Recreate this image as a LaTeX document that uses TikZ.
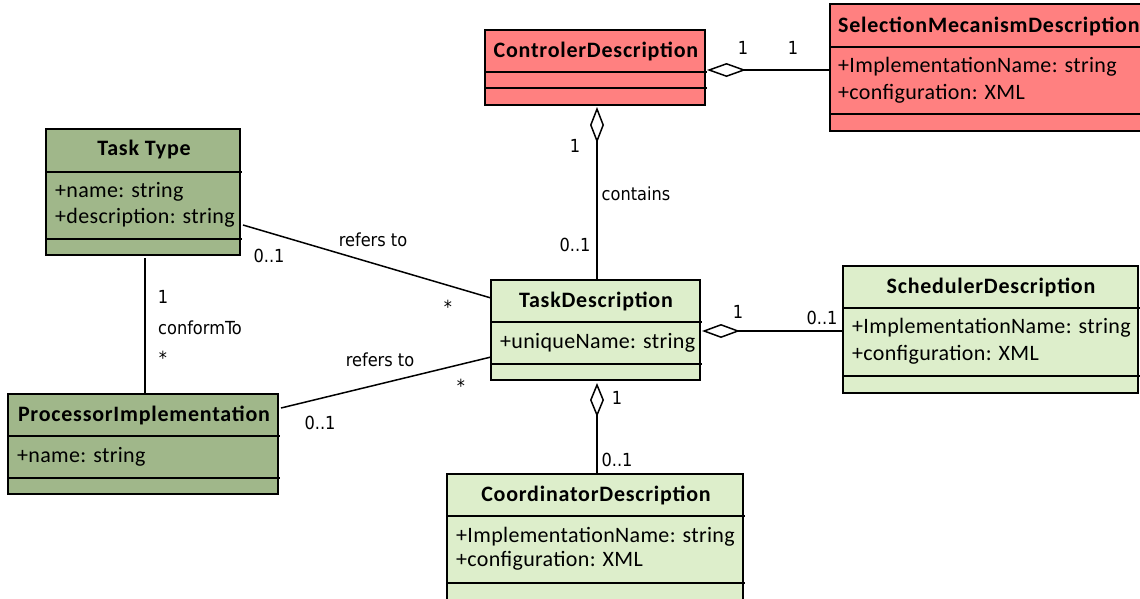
\documentclass[tikz,border=0pt]{standalone}
\usepackage{fontspec}
\usetikzlibrary{arrows.meta}
\newfontfamily\clsfont{Carlito}[LetterSpace=1.5]
\newfontfamily\clstitlefont{Carlito}[LetterSpace=3.5]
\newfontfamily\lblfont{DejaVu Sans Condensed}
\definecolor{cred}{HTML}{FF8080}
\definecolor{cdark}{HTML}{A0B78A}
\definecolor{clight}{HTML}{DDEECB}
\tikzset{
  classbox/.style={draw, line width=1.5pt, inner sep=0pt, outer sep=0pt},
  sepline/.style={line width=1.5pt},
  ctitle/.style={inner sep=0pt, font=\clstitlefont\bfseries\fontsize{22}{26}\selectfont},
  cattr/.style={inner sep=0pt, anchor=west, font=\clsfont\fontsize{22}{26}\selectfont},
  lbl/.style={inner sep=0pt, font=\lblfont\fontsize{18}{21}\selectfont},
  conn/.style={line width=1.5pt},
  agg/.style={line width=1.5pt, {Diamond[open,length=#1,width=14pt]}-},
}
\newcommand\umlclass[8]{%
  \node[classbox, fill=#8, minimum width={(#4-#2)*1pt}, minimum height={(#5-#3)*1pt}, anchor=north west] (#1) at (#2,#3) {};
  \draw[sepline] (#2,#6) -- (#4+2,#6) (#2,#7) -- (#4+2,#7);
}
\begin{document}
\begin{tikzpicture}[x=1pt,y=-1pt]
\useasboundingbox (0,0) rectangle (1140,598);
\clip (0,0) rectangle (1140,598);
% classes
\umlclass{ctrl}{485}{30}{705}{105}{72}{88}{cred}
\node[ctitle] (ctrl-t) at (596,51) {ControlerDescription};

\umlclass{sel}{830}{4}{1152}{131}{47}{114}{cred}
\node[ctitle, anchor=west] (sel-t) at (838,26) {SelectionMecanismDescription};
\node[cattr] (sel-a1) at (838,67) {+ImplementationName: string};
\node[cattr] (sel-a2) at (838,94) {+configuration: XML};

\umlclass{tt}{46}{129}{240}{255}{172}{239}{cdark}
\node[ctitle] (tt-t) at (144,150) {Task Type};
\node[cattr] (tt-a1) at (55,192) {+name: string};
\node[cattr] (tt-a2) at (55,218) {+description: string};

\umlclass{proc}{8}{394}{278}{494}{436}{478}{cdark}
\node[ctitle] (proc-t) at (144,415) {ProcessorImplementation};
\node[cattr] (proc-a1) at (17,457) {+name: string};

\umlclass{td}{491}{280}{700}{380}{322}{364}{clight}
\node[ctitle] (td-t) at (596,301) {TaskDescription};
\node[cattr] (td-a1) at (500,343) {+uniqueName: string};

\umlclass{sched}{843}{266}{1138}{393}{308}{376}{clight}
\node[ctitle] (sched-t) at (991,287) {SchedulerDescription};
\node[cattr] (sched-a1) at (852,328) {+ImplementationName: string};
\node[cattr] (sched-a2) at (852,355) {+configuration: XML};

\umlclass{coord}{447}{474}{743}{620}{516}{583}{clight}
\node[ctitle] (coord-t) at (596,495) {CoordinatorDescription};
\node[cattr] (coord-a1) at (456,537) {+ImplementationName: string};
\node[cattr] (coord-a2) at (456,561) {+configuration: XML};

% connectors
\draw[agg=39pt] ([xshift=2pt,yshift=-2.5pt]ctrl.east) -- ([yshift=-2.5pt]sel.west);
\draw[agg=36pt] ([xshift=2pt,yshift=-2pt]ctrl.south) -- ([xshift=1.5pt]td.north);
\draw[agg=38pt] ([xshift=2pt,yshift=-1pt]td.east) -- ([yshift=-1.5pt]sched.west);
\draw[agg=34pt] ([xshift=1.5pt,yshift=-3pt]td.south) -- ([xshift=2pt]coord.north);
\draw[conn] ([xshift=3pt,yshift=-33pt]tt.east) -- ([yshift=32pt]td.west);
\draw[conn] ([xshift=3pt,yshift=36pt]proc.east) -- ([yshift=-27pt]td.west);
\draw[conn] ([xshift=2pt,yshift=-3pt]tt.south) -- ([xshift=2pt]proc.north);

% labels
\node[lbl] (l1) at (743,48) {1};
\node[lbl] (l2) at (793,48) {1};
\node[lbl] (l3) at (575,146) {1};
\node[lbl] (l4) at (636,194) {contains};
\node[lbl] (l5) at (575,245) {0..1};
\node[lbl] (l6) at (738,312) {1};
\node[lbl] (l7) at (822,318) {0..1};
\node[lbl] (l8) at (617,398) {1};
\node[lbl] (l9) at (617,460) {0..1};
\node[lbl] (l10) at (373,240) {refers to};
\node[lbl] (l11) at (269,256) {0..1};
\node[lbl] (l12) at (448,307) {*};
\node[lbl] (l13) at (380,360) {refers to};
\node[lbl] (l14) at (320,423) {0..1};
\node[lbl] (l15) at (461,386) {*};
\node[lbl] (l16) at (163,297) {1};
\node[lbl] (l17) at (200,328) {conformTo};
\node[lbl] (l18) at (163,358) {*};
\end{tikzpicture}
\end{document}
